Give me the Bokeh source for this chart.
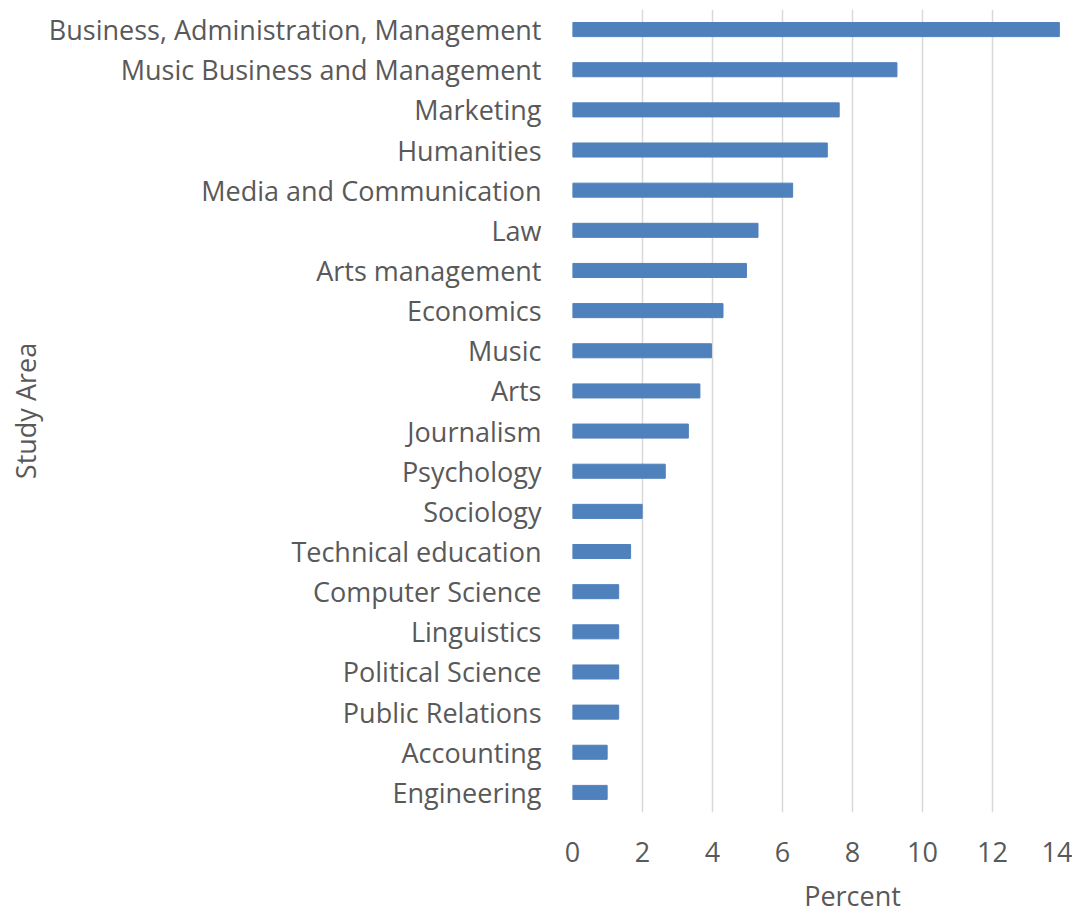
from bokeh.plotting import figure
from bokeh.models import Title, FixedTicker, LinearAxis
from bokeh.embed import file_html
from bokeh.resources import INLINE

categories = [
    "Business, Administration, Management",
    "Music Business and Management",
    "Marketing",
    "Humanities",
    "Media and Communication",
    "Law",
    "Arts management",
    "Economics",
    "Music",
    "Arts",
    "Journalism",
    "Psychology",
    "Sociology",
    "Technical education",
    "Computer Science",
    "Linguistics",
    "Political Science",
    "Public Relations",
    "Accounting",
    "Engineering",
]
percent = [13.91, 9.27, 7.62, 7.28, 6.29, 5.30, 4.97, 4.30, 3.97, 3.64,
           3.31, 2.65, 1.99, 1.66, 1.32, 1.32, 1.32, 1.32, 0.99, 0.99]
x_ticks = [0, 2, 4, 6, 8, 10, 12, 14]
x_title = "Percent"
y_title = "Study Area"

FONT = "Open Sans"
TXT = "#595959"
FS = "27px"

factors = list(reversed(categories))

p = figure(y_range=factors, x_range=(0, 14),
           frame_width=490, frame_height=803,
           min_border_left=572, min_border_right=10,
           min_border_top=9, min_border_bottom=10,
           output_backend="svg", toolbar_location=None)

p.hbar(y=categories, right=percent, left=0, height=0.35,
       color="#4F81BD", line_color="#4F81BD")

p.outline_line_color = None
p.background_fill_color = "white"

p.xaxis.ticker = FixedTicker(ticks=x_ticks)
p.xaxis.axis_line_color = None
p.xaxis.major_tick_line_color = None
p.xaxis.minor_tick_line_color = None
p.xaxis.major_label_standoff = 23
p.xaxis.major_label_text_font = FONT
p.xaxis.major_label_text_font_size = FS
p.xaxis.major_label_text_color = TXT

# second, tick-less axis carrying the x title centred under 8 %
title_axis = LinearAxis(ticker=FixedTicker(ticks=[8]),
                        major_label_overrides={8: x_title},
                        axis_line_color=None,
                        major_tick_line_color=None,
                        minor_tick_line_color=None,
                        major_label_standoff=6,
                        major_label_text_font=FONT,
                        major_label_text_font_size=FS,
                        major_label_text_color=TXT)
p.add_layout(title_axis, "below")

p.yaxis.axis_line_color = None
p.yaxis.major_tick_line_color = None
p.yaxis.minor_tick_line_color = None
p.yaxis.major_label_standoff = 25
p.yaxis.major_label_text_font = FONT
p.yaxis.major_label_text_font_size = FS
p.yaxis.major_label_text_color = TXT

p.xgrid.grid_line_color = "#d9d9d9"
p.xgrid.grid_line_width = 1.5
p.ygrid.grid_line_color = None

p.add_layout(Title(text=y_title, align="center",
                   text_font=FONT, text_font_size=FS, text_color=TXT,
                   text_font_style="normal", standoff=4), "left")

open("out.html", "w").write(file_html(p, INLINE))
